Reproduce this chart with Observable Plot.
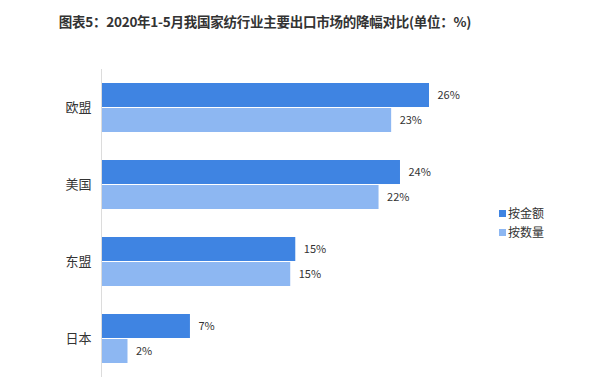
<!DOCTYPE html>
<html>
<head>
<meta charset="utf-8">
<script src="https://cdn.jsdelivr.net/npm/d3@7"></script>
<script src="https://cdn.jsdelivr.net/npm/@observablehq/plot@0.6"></script>
<style>
  body { margin: 0; background: #fff; font-family: "Noto Sans CJK SC", "Noto Sans", sans-serif; }
  #wrap { position: relative; width: 600px; height: 379px; overflow: hidden; }
  #title { position: absolute; left: 0; width: 530px; top: 11px; text-align: center; font-size: 13.5px; font-weight: bold; color: #333; letter-spacing: -0.25px; }
  #chart { position: absolute; left: 0; top: 50px; }
  #legend { position: absolute; left: 499px; top: 203px; font-size: 12px; color: #333; line-height: 19px; }
  #legend .sw { display: inline-block; width: 7px; height: 7px; margin-right: 2px; vertical-align: 1px; }
</style>
</head>
<body>
<div id="wrap">
  <div id="title">图表5：2020年1-5月我国家纺行业主要出口市场的降幅对比(单位：%)</div>
  <div id="chart"></div>
  <div id="legend"></div>
</div>
<script>
const countries = ["欧盟", "美国", "东盟", "日本"];
const seriesNames = ["按金额", "按数量"];
const byValue = [26, 23.7, 15.4, 7.05];
const byQuantity = [23, 22, 15, 2.1];
const colors = ["#3f84e2", "#8db7f2"];

const data = [];
countries.forEach((c, i) => {
  data.push({country: c, series: seriesNames[0], value: byValue[i]});
  data.push({country: c, series: seriesNames[1], value: byQuantity[i]});
});

const plot = Plot.plot({
  width: 600,
  height: 329,
  marginLeft: 101,
  marginRight: 171,
  marginTop: 19,
  marginBottom: 2,
  style: {fontFamily: "'Noto Sans CJK SC', sans-serif", fontSize: "13px", color: "#333", background: "#fff"},
  x: {domain: [0, 26], axis: null},
  y: {domain: seriesNames, axis: null, paddingInner: 0.04, paddingOuter: 0},
  fy: {domain: countries, paddingInner: 0.364, paddingOuter: 0.18, axis: "left", tickSize: 0, tickPadding: 10, label: null},
  color: {domain: seriesNames, range: colors},
  facet: {data: data, y: "country", label: null},
  marks: [
    Plot.barX(data, {x: "value", y: "series", fill: "series"}),
    Plot.ruleX([0], {stroke: "#dcdcdc", strokeWidth: 1, insetTop: -14, insetBottom: -14}),
    Plot.text(data, {x: "value", y: "series", text: d => Math.round(d.value) + "%", dx: 8, textAnchor: "start", fontSize: 11, fill: "#333"})
  ]
});
document.getElementById("chart").appendChild(plot);

const legend = document.getElementById("legend");
seriesNames.forEach((s, i) => {
  const row = document.createElement("div");
  row.innerHTML = `<span class="sw" style="background:${colors[i]}"></span>${s}`;
  legend.appendChild(row);
});
</script>
</body>
</html>
